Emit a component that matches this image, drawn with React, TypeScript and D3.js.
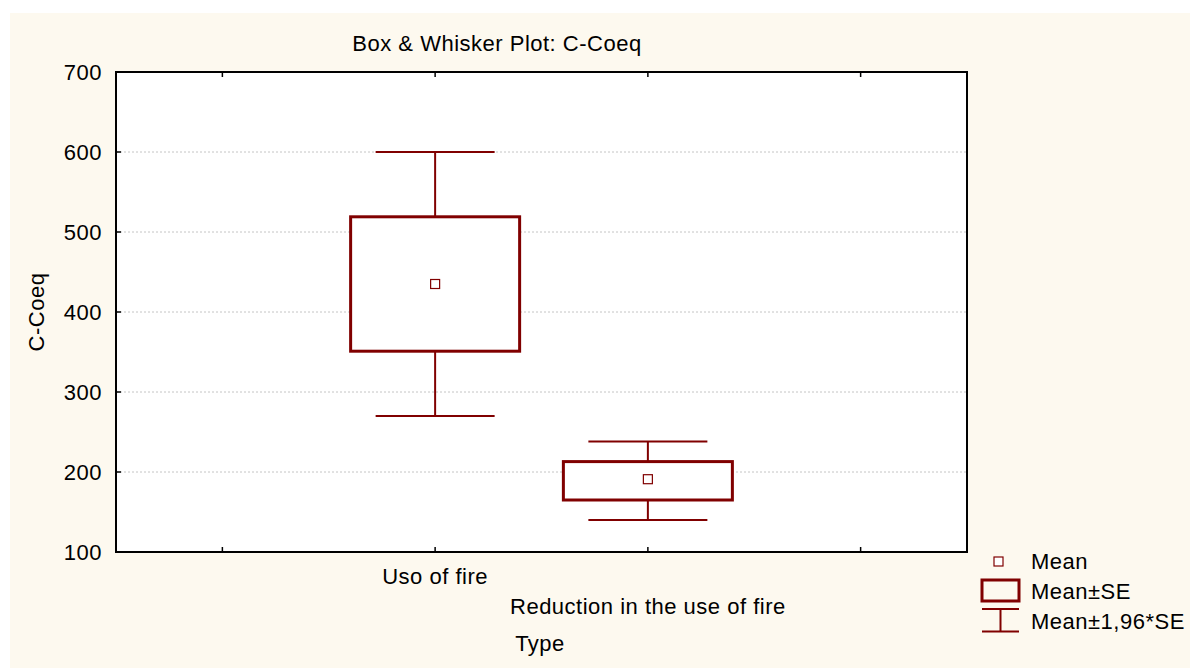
import React from "react";
import * as d3 from "d3";

const categories = ["Uso of fire", "Reduction in the use of fire"];
const means = [435, 191];
const seLow = [351, 165];
const seHigh = [519, 213];
const ciLow = [270, 140];
const ciHigh = [600, 238];
const yTicks = [100, 200, 300, 400, 500, 600, 700];
const gridTicks = [200, 300, 400, 500, 600];
const legendLabels = ["Mean", "Mean±SE", "Mean±1,96*SE"];

const W = 1190;
const H = 668;
const left = 116, right = 967, top = 72, bottom = 552;
const RED = "#800000";
const FONT = "Arial, 'Liberation Sans', sans-serif";
const FS = 22;
const LS = 0.5;

export default function App() {
  const y = d3.scaleLinear().domain([100, 700]).range([bottom, top]);
  const x = d3.scalePoint<string>().domain(categories).range([left, right]).padding(1.5);
  const step = x.step();
  const xTicks = [
    (x(categories[0]) as number) - step,
    ...categories.map((c) => x(c) as number),
    (x(categories[categories.length - 1]) as number) + step,
  ];
  const boxHalf = 84.5;
  const capHalf = 59.5;
  const labelBaselines = [584, 614];

  return (
    <svg width={W} height={H} style={{ position: "absolute", left: 0, top: 0 }} fontFamily={FONT}>
      <rect x={0} y={0} width={W} height={H} fill="#ffffff" />
      <rect x={10} y={13} width={1180} height={655} fill="#fdf9ef" />
      <rect x={left} y={top} width={right - left} height={bottom - top} fill="#ffffff" />
      {gridTicks.map((t) => (
        <line key={t} x1={left} x2={right} y1={y(t)} y2={y(t)} stroke="#c4c4c4" strokeWidth={1} strokeDasharray="2,2" />
      ))}
      {categories.map((c, i) => {
        const cx = x(c) as number;
        return (
          <g key={c}>
            <line x1={cx} x2={cx} y1={y(ciHigh[i])} y2={y(seHigh[i])} stroke={RED} strokeWidth={2} />
            <line x1={cx} x2={cx} y1={y(seLow[i])} y2={y(ciLow[i])} stroke={RED} strokeWidth={2} />
            <line x1={cx - capHalf} x2={cx + capHalf} y1={y(ciHigh[i])} y2={y(ciHigh[i])} stroke={RED} strokeWidth={2} />
            <line x1={cx - capHalf} x2={cx + capHalf} y1={y(ciLow[i])} y2={y(ciLow[i])} stroke={RED} strokeWidth={2} />
            <rect
              x={cx - boxHalf}
              y={y(seHigh[i])}
              width={boxHalf * 2}
              height={y(seLow[i]) - y(seHigh[i])}
              fill="#ffffff"
              stroke={RED}
              strokeWidth={3}
            />
            <rect x={cx - 4.5} y={y(means[i]) - 4.5} width={9} height={9} fill="#ffffff" stroke={RED} strokeWidth={1.2} />
          </g>
        );
      })}
      {/* frame */}
      <rect x={left} y={top} width={right - left} height={bottom - top} fill="none" stroke="#000" strokeWidth={2} />
      {xTicks.map((t, i) => (
        <g key={i}>
          <line x1={t} x2={t} y1={bottom} y2={bottom - 5} stroke="#000" strokeWidth={1.5} />
          <line x1={t} x2={t} y1={top} y2={top + 5} stroke="#000" strokeWidth={1.5} />
        </g>
      ))}
      {yTicks.map((t) => (
        <g key={t}>
          <line x1={left} x2={left + 5} y1={y(t)} y2={y(t)} stroke="#000" strokeWidth={1.5} />
          <text x={102} y={y(t)} dy="0.36em" textAnchor="end" fontSize={FS} letterSpacing={LS} fill="#000">
            {t}
          </text>
        </g>
      ))}
      {categories.map((c, i) => (
        <text key={c} x={x(c) as number} y={labelBaselines[i]} textAnchor="middle" fontSize={FS} letterSpacing={LS} fill="#000">
          {c}
        </text>
      ))}
      <text x={540} y={651} textAnchor="middle" fontSize={FS} letterSpacing={LS} fill="#000">Type</text>
      <text x={497} y={51} textAnchor="middle" fontSize={FS} letterSpacing={LS} fill="#000">Box &amp; Whisker Plot: C-Coeq</text>
      <text transform={`translate(44, ${(top + bottom) / 2}) rotate(-90)`} textAnchor="middle" fontSize={FS} letterSpacing={LS} fill="#000">
        C-Coeq
      </text>
      {/* legend */}
      <g>
        <rect x={994} y={557} width={9} height={9} fill="#ffffff" stroke={RED} strokeWidth={1.2} />
        <text x={1031} y={569} fontSize={FS} letterSpacing={LS} fill="#000">{legendLabels[0]}</text>
        <rect x={982} y={580} width={37} height={21} fill="none" stroke={RED} strokeWidth={3} />
        <text x={1031} y={599} fontSize={FS} letterSpacing={LS} fill="#000">{legendLabels[1]}</text>
        <line x1={982} x2={1019} y1={609} y2={609} stroke={RED} strokeWidth={2} />
        <line x1={982} x2={1019} y1={631.5} y2={631.5} stroke={RED} strokeWidth={2} />
        <line x1={1000.5} x2={1000.5} y1={609} y2={631.5} stroke={RED} strokeWidth={2} />
        <text x={1031} y={629} fontSize={FS} letterSpacing={LS} fill="#000">{legendLabels[2]}</text>
      </g>
    </svg>
  );
}
